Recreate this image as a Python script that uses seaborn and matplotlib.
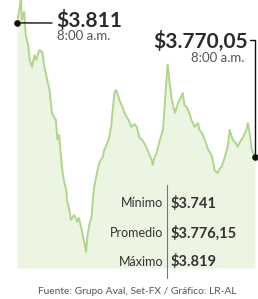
import matplotlib
matplotlib.use("Agg")
import matplotlib.pyplot as plt
import seaborn as sns
import pandas as pd
from matplotlib.lines import Line2D

# minutos desde las 8:00 a.m. y precio del dolar
minutos = [0, 3, 5, 6, 9, 11, 14, 16, 19, 22, 24, 28, 32, 34, 38, 41, 44, 47, 49, 51,
           53, 57, 59, 62, 63, 66, 68, 72, 76, 78, 81, 85, 87, 89, 91, 94, 95, 97, 101, 104,
           108, 110, 114, 116, 119, 120, 123, 125, 129, 133, 135, 138, 142, 144, 148, 151, 154, 158, 163, 167,
           170, 171, 173, 176, 180, 184, 186, 189, 190, 192, 195, 199, 203, 205, 209, 211, 214, 218, 220, 224,
           228, 230, 233, 237, 241, 243, 246, 249, 253, 256, 258, 262, 266, 268, 272, 276, 278, 281, 285, 289,
           291, 294, 296, 300]
precio = [3811.0, 3815.0, 3819.0, 3811.9, 3814.4, 3807.3, 3804.3, 3799.7, 3797.5, 3801.2,
          3799.7, 3802.7, 3802.1, 3798.2, 3793.6, 3790.5, 3783.5, 3782.0, 3781.4, 3775.3,
          3776.8, 3766.1, 3763.0, 3760.0, 3756.9, 3753.8, 3750.8, 3752.3, 3750.2, 3751.4,
          3748.4, 3743.8, 3741.0, 3746.2, 3749.2, 3751.7, 3755.3, 3760.5, 3765.4, 3768.5,
          3770.0, 3772.2, 3774.3, 3775.8, 3779.8, 3782.9, 3789.9, 3790.5, 3787.5, 3785.3,
          3783.8, 3782.3, 3780.7, 3779.2, 3780.1, 3779.2, 3776.1, 3775.2, 3773.1, 3770.6,
          3769.1, 3767.6, 3769.7, 3771.2, 3775.2, 3778.3, 3785.3, 3795.7, 3798.2, 3793.6,
          3787.5, 3783.5, 3786.5, 3787.5, 3789.6, 3785.9, 3785.3, 3782.9, 3781.3, 3779.2,
          3780.4, 3778.3, 3777.4, 3775.2, 3772.2, 3771.6, 3770.0, 3766.0, 3765.1, 3766.7,
          3767.0, 3770.0, 3773.7, 3778.3, 3775.2, 3774.3, 3773.1, 3774.6, 3776.1, 3778.3,
          3780.4, 3776.1, 3772.2, 3770.05]

etiquetas = ["Mínimo", "Promedio", "Máximo"]
resumen = ["$3.741", "$3.776,15", "$3.819"]
apertura = "$3.811"
cierre = "$3.770,05"
hora = "8:00 a.m."
fuente = "Fuente: Grupo Aval, Set-FX / Gráfico: LR-AL"

df = pd.DataFrame({"minuto": minutos, "precio": precio})

sns.set_style("white")
plt.rcParams['font.family'] = ['Lato', 'DejaVu Sans']

W, H = 258, 299
fig = plt.figure(figsize=(W / 100, H / 100), dpi=100)
ax = fig.add_axes([17 / W, 31 / H, 238 / W, 268 / H])

ymin, ymax = 3736.1, 3818.0
ax.fill_between(df["minuto"], df["precio"], ymin, color="#ecf4e2", lw=0)
sns.lineplot(data=df, x="minuto", y="precio", ax=ax, color="#afd68a", lw=1.4)
ax.scatter([minutos[0], minutos[-1]], [precio[0], precio[-1]], s=14, color="#111111",
           zorder=5, clip_on=False)

ax.set_xlim(minutos[0], minutos[-1])
ax.set_ylim(ymin, ymax)
ax.axis("off")

# linea del valor de apertura
ax.annotate("", xy=(minutos[0], precio[0]), xytext=(52 / W, 1 - 23 / H),
            textcoords="figure fraction",
            arrowprops=dict(arrowstyle="-", color="#111111", lw=1, shrinkA=0, shrinkB=0))


def fx(px):
    return px / W


def fy(py):
    return 1 - py / H


fig.text(fx(56), fy(21), apertura, fontsize=15, fontweight="bold", color="#2b2b2b",
         ha="left", va="center")
fig.text(fx(57), fy(36), hora, fontsize=9.5, color="#555555", ha="left", va="center")

fig.text(fx(248), fy(41), cierre, fontsize=15, fontweight="bold", color="#2b2b2b",
         ha="right", va="center")
fig.text(fx(244), fy(58), hora, fontsize=9.5, color="#555555", ha="right", va="center")
fig.add_artist(Line2D([fx(250), fx(255), fx(255)], [fy(40), fy(40), fy(157)],
                      color="#111111", lw=1))

# tabla de resumen
filas = [203, 233, 262]
for lab, val, yy in zip(etiquetas, resumen, filas):
    fig.text(fx(163), fy(yy), lab, fontsize=9, color="#333333", ha="right", va="center")
    fig.text(fx(171), fy(yy), val, fontsize=10.5, fontweight="bold", color="#333333",
             ha="left", va="center")
fig.add_artist(Line2D([fx(167), fx(167)], [fy(185), fy(278)], color="#777777", lw=0.8))

fig.text(fx(137), fy(291), fuente, fontsize=7.4, color="#555555", ha="center", va="center")

fig.savefig("out.png", dpi=100)
